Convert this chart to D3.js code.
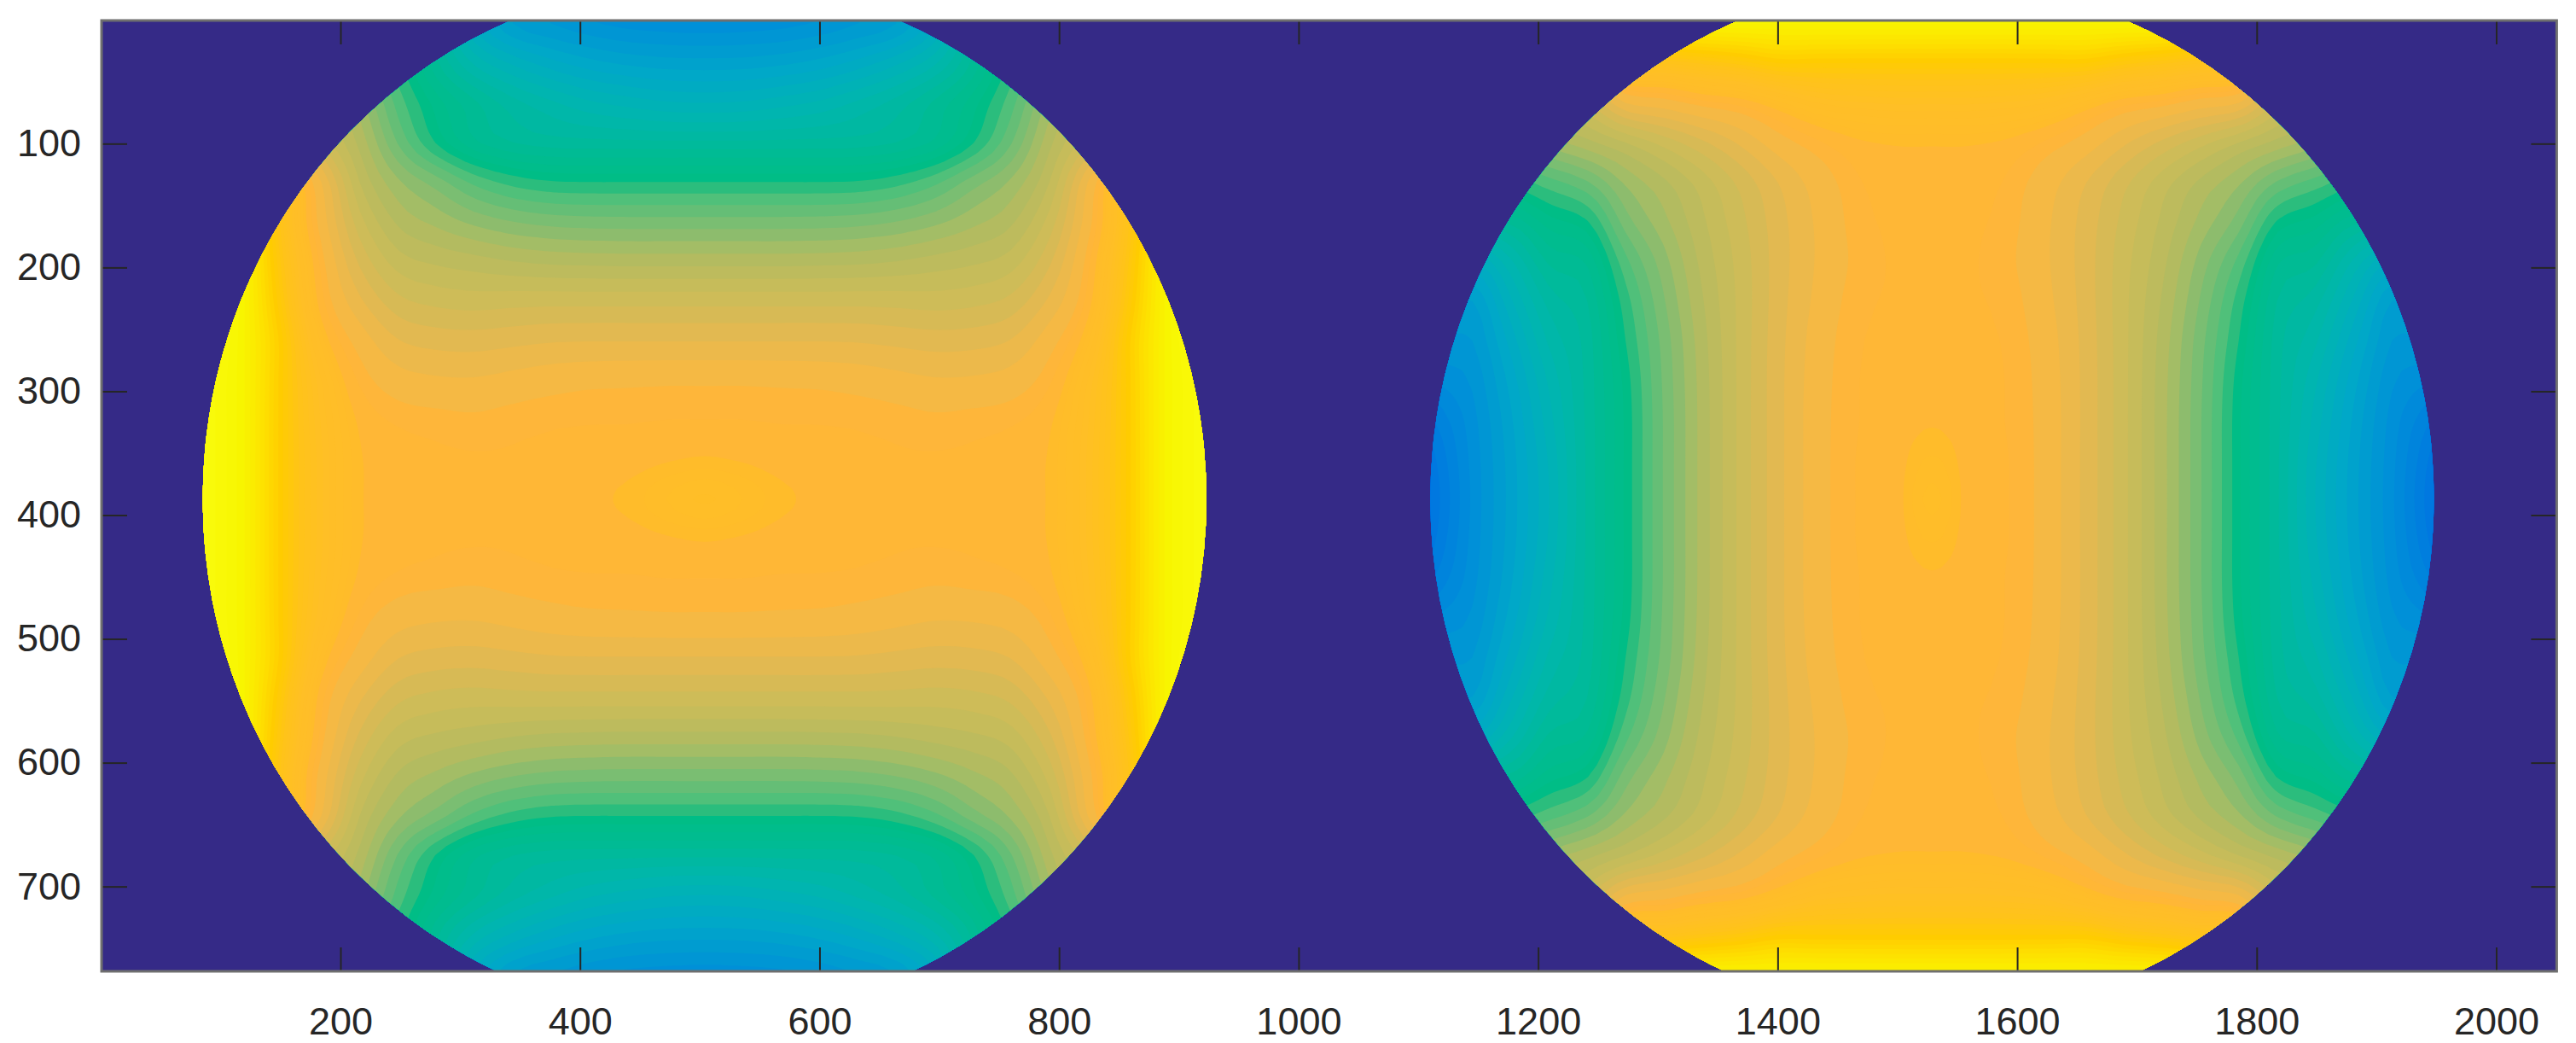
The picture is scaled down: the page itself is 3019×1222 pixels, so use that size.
<!DOCTYPE html>
<html><head><meta charset="utf-8">
<script src="https://cdn.jsdelivr.net/npm/d3@7"></script>
<style>html,body{margin:0;padding:0;background:#fff}svg{display:block}</style>
</head><body><svg id="c" width="3019" height="1222"></svg>
<script>
const xTicks=[200,400,600,800,1000,1200,1400,1600,1800,2000];
const yTicks=[100,200,300,400,500,600,700];
const discCentersX=[504,1529];
const discCenterY=387;
const discRadius=419;
const gridStep=32;
// Field, one quadrant per disc.
// Rows: distance along the lobe axis (0,32,...,448). Columns: distance across it (0,32,...,448).
const leftQuadrant=[
[22.8,22.5,22.1,21.9,21.7,21.6,21.6,21.7,21.85,22.05,23.3,25,27,28,29.5],
[22.05,21.95,21.8,21.7,21.6,21.55,21.55,21.6,21.75,22.05,23.3,25,27,28,29.5],
[21.5,21.5,21.45,21.45,21.4,21.3,21.15,21.25,21.4,21.9,23.2,25,27,28,29.5],
[20.85,20.85,20.8,20.75,20.6,20.35,20.1,20.15,20.45,21.4,23,25,27,28,29.5],
[18.95,18.95,18.95,18.95,18.9,18.7,18.5,18.6,19.05,20.6,22.4,25,27,28.2,29.5],
[16.65,16.65,16.65,16.65,16.65,16.6,16.5,16.7,17.3,19.2,21.7,24.6,27,28.5,30],
[13.6,13.6,13.6,13.65,13.75,14,14.4,14.8,15.5,17.8,21.3,24.3,27,28.5,30],
[10.4,10.4,10.4,10.45,10.6,11,11.7,12.7,13.8,16.4,20.6,24,27,29,31],
[7,7,7,7,7.1,7.6,8.7,10.5,12.2,15,20,24,27,29,31],
[3.4,3.4,3.45,3.5,3.6,4,4.9,6.9,9.9,13.7,17,22,26,29,31],
[0.25,0.35,0.7,1.15,1.9,2.8,4.15,5.9,8.6,12.5,16,20,25,28,31],
[-2.45,-2.39,-2.15,-1.7,-0.95,0.1,1.6,4.2,7.6,11,14,20,24,27,30],
[-4.85,-4.76,-4.55,-4.1,-3.5,-2.75,-0.5,4,9,13,17,21,25,28,30],
[-7.7,-7.4,-6.5,-5,-3.5,-2,1,7,10,14,18,22,26,29,31],
[-10.4,-10.1,-8.6,-6.5,-4.4,-2,1,7.5,11,15,19,23,27,30,32]];
const rightQuadrant=[
[22.6,22.3,21.95,21.85,21.7,21.6,21.6,21.7,21.85,22.05,23.3,25,27,28,29.5],
[21.8,21.8,21.75,21.7,21.6,21.55,21.55,21.6,21.75,22.05,23.3,25,27,28,29.5],
[21.5,21.5,21.45,21.45,21.4,21.3,21.15,21.25,21.4,21.9,23.2,25,27,28,29.5],
[20.6,20.6,20.6,20.55,20.45,20.25,20.1,20.15,20.45,21.4,23,25,27,28,29.5],
[18.7,18.7,18.7,18.7,18.65,18.55,18.5,18.6,19.05,20.6,22.4,25,27,28.2,29.5],
[16.3,16.3,16.3,16.3,16.3,16.3,16.4,16.7,17.3,19.2,21.7,24.6,27,28.5,30],
[13.4,13.4,13.4,13.45,13.6,13.9,14.3,14.8,15.5,17.8,21.3,24.3,27,28.5,30],
[10.1,10.1,10.1,10.2,10.4,10.9,11.6,12.7,13.8,16.4,20.6,24,27,29,31],
[6.4,6.4,6.4,6.55,7,7.55,8.7,10.5,12.2,15,20,24,27,29,31],
[3.4,3.4,3.45,3.5,3.6,4,4.9,6.9,9.9,13.7,17,22,26,29,31],
[0.25,0.35,0.7,1.15,1.9,2.8,4.15,5.9,8.6,12.5,16,20,25,28,31],
[-2.45,-2.39,-2.15,-1.7,-0.95,0.1,1.6,4.2,7.6,11,14,20,24,27,30],
[-4.85,-4.76,-4.55,-4.1,-3.5,-2.75,-0.5,4,9,13,17,21,25,28,30],
[-7.7,-7.4,-6.5,-5,-3.5,-2,1,7,10,14,18,22,26,29,31],
[-10.4,-10.1,-8.6,-6.5,-4.4,-2,1,7.5,11,15,19,23,27,30,32]];
const colorDomain=[-11,-8,-5,-2,1,4,6.97,7,8,9,10,11,12,13,14,15,16,17,18,19,20,21,21.5,22,23,24,25,26,27,28,32];
const colorRange=["#0066e0","#0078e0","#0090d8","#00a8c8","#00b5b0","#00bb94","#00be82","#2bbd7d","#50c07a","#65be76","#7abe72","#8dbc6d","#a3bd66","#b3bb60","#bdbb5d","#c6bc5a","#cebc58","#d7ba55","#e2b951","#ecb94b","#f5b944","#feb63a","#ffb736","#ffbc2a","#ffbf26","#ffc31a","#ffcc00","#fde200","#f8f500","#f9fb0e","#f9fb0e"];
const bgColor="#352a87";

const svg=d3.select("#c");
const x=d3.scaleLinear().domain([0.5,2050.5]).range([119,2996.4]);
const y=d3.scaleLinear().domain([0.5,768.5]).range([24,1138]);
const color=d3.scaleLinear().domain(colorDomain).range(colorRange).clamp(true);
const levels=[...d3.range(-14,7,0.75),...d3.range(7,22,1),21.5,...d3.range(22,31,0.25)].sort((a,b)=>a-b);
const [x0,x1]=x.range(),[y0,y1]=y.range();
const defs=svg.append("defs");
defs.append("clipPath").attr("id","plot").append("rect").attr("x",x0).attr("y",y0).attr("width",x1-x0).attr("height",y1-y0);
const plot=svg.append("g").attr("clip-path","url(#plot)");
plot.append("rect").attr("x",x0).attr("y",y0).attr("width",x1-x0).attr("height",y1-y0).attr("fill",bgColor);

// Smooth surface for the renderer only: the contouring runs on a Catmull-Rom
// resampling of the read values so that bands are not kinked at the grid lines.
const smoothFactor=4;
function cr(p0,p1,p2,p3,t){return 0.5*((2*p1)+(-p0+p2)*t+(2*p0-5*p1+4*p2-p3)*t*t+(-p0+3*p1-3*p2+p3)*t*t*t);}
function surface(q,alongVertical){
  const n=q.length,m=2*n-1;
  const at=(r,c)=>{
    const rr=Math.max(0,Math.min(m-1,r)),cc=Math.max(0,Math.min(m-1,c));
    const dr=Math.abs(rr-n+1),dc=Math.abs(cc-n+1);
    return alongVertical?q[dr][dc]:q[dc][dr];
  };
  const size=(m-1)*smoothFactor+1,vals=new Array(size*size);
  for(let i=0;i<size;i++){
    const rf=i/smoothFactor,r=Math.floor(rf),tr=rf-r;
    for(let j=0;j<size;j++){
      const cf=j/smoothFactor,c=Math.floor(cf),tc=cf-c;
      const col=[-1,0,1,2].map(k=>cr(at(r+k,c-1),at(r+k,c),at(r+k,c+1),at(r+k,c+2),tc));
      vals[i*size+j]=cr(col[0],col[1],col[2],col[3],tr);
    }
  }
  return {vals,size,half:n-1};
}
[[leftQuadrant,true],[rightQuadrant,false]].forEach(([q,vertical],i)=>{
  const cx=discCentersX[i];
  defs.append("clipPath").attr("id","disc"+i).append("ellipse")
    .attr("cx",x(cx)).attr("cy",y(discCenterY))
    .attr("rx",x(cx+discRadius)-x(cx)).attr("ry",y(discCenterY+discRadius)-y(discCenterY));
  const {vals,size,half}=surface(q,vertical);
  const contours=d3.contours().size([size,size]).thresholds(levels)(vals);
  const line=d3.line().curve(d3.curveBasisClosed)
    .x(p=>x(cx+((p[0]-0.5)/smoothFactor-half)*gridStep))
    .y(p=>y(discCenterY+((p[1]-0.5)/smoothFactor-half)*gridStep));
  const g=plot.append("g").attr("clip-path",`url(#disc${i})`);
  g.append("rect").attr("x",x0).attr("y",y0).attr("width",x1-x0).attr("height",y1-y0).attr("fill",color(-14));
  g.selectAll("path").data(contours).join("path")
    .attr("fill-rule","evenodd")
    .attr("fill",d=>color(d.value))
    .attr("d",d=>d.coordinates.map(poly=>poly.map(ring=>line(ring.slice(0,-1))).join("")).join(""));
});

const tickColor="#262626",boxColor="#6f6f6f";
function styleAxis(g){
  g.selectAll(".domain").remove();
  g.selectAll("line").attr("stroke",tickColor).attr("stroke-width",2);
  g.selectAll("text").attr("fill",tickColor).attr("font-family","'Liberation Sans',Arial,sans-serif").attr("font-size",45);
}
svg.append("g").attr("transform",`translate(0,${y1})`).call(d3.axisBottom(x).tickValues(xTicks).tickFormat(d3.format("d")).tickSizeInner(-28).tickSizeOuter(0).tickPadding(42)).call(styleAxis);
svg.append("g").attr("transform",`translate(0,${y0})`).call(d3.axisTop(x).tickValues(xTicks).tickFormat("").tickSizeInner(-28).tickSizeOuter(0)).call(styleAxis);
svg.append("g").attr("transform",`translate(${x0},0)`).call(d3.axisLeft(y).tickValues(yTicks).tickFormat(d3.format("d")).tickSizeInner(-30).tickSizeOuter(0).tickPadding(24)).call(styleAxis);
svg.append("g").attr("transform",`translate(${x1},0)`).call(d3.axisRight(y).tickValues(yTicks).tickFormat("").tickSizeInner(-30).tickSizeOuter(0)).call(styleAxis);
svg.append("rect").attr("x",x0).attr("y",y0).attr("width",x1-x0).attr("height",y1-y0).attr("fill","none").attr("stroke",boxColor).attr("stroke-width",3);
</script></body></html>
